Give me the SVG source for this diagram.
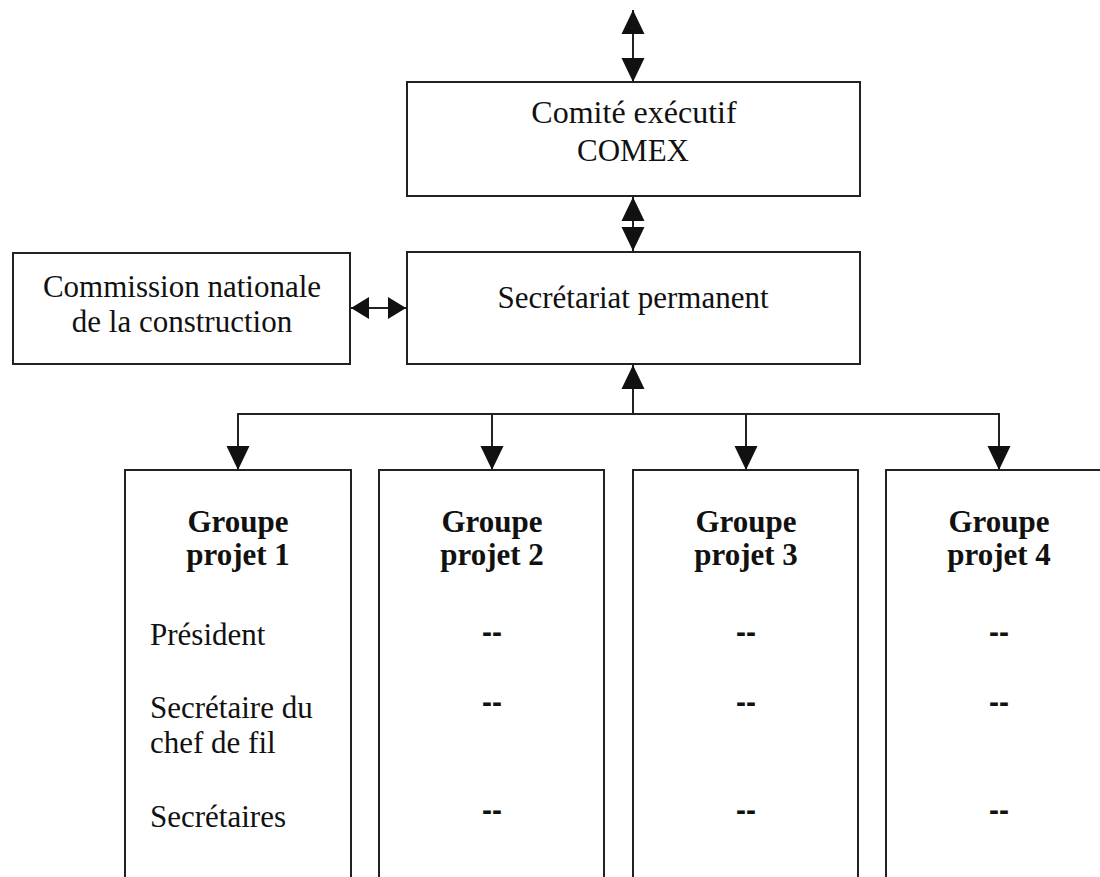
<svg xmlns="http://www.w3.org/2000/svg" width="1100" height="877" viewBox="0 0 1100 877">
<style>
.box{fill:#fff;stroke:#222;stroke-width:2}
.ln{fill:none;stroke:#222;stroke-width:2}
.t{font-family:"Liberation Serif","Times New Roman",serif;font-size:31px;fill:#111}
.b{font-family:"Liberation Serif","Times New Roman",serif;font-size:31px;font-weight:bold;fill:#111}
.d{font-family:"Liberation Sans",Arial,sans-serif;font-size:30px;font-weight:bold;fill:#111}
.c{text-anchor:middle}
</style>
<defs>
<marker id="ah" markerUnits="userSpaceOnUse" markerWidth="24" markerHeight="24" refX="24" refY="12" orient="auto-start-reverse" viewBox="0 0 24 24">
<path d="M0,0.5 L24,12 L0,23.5 z" fill="#111"/>
</marker>
<marker id="ahs" markerUnits="userSpaceOnUse" markerWidth="18" markerHeight="22" refX="18" refY="11" orient="auto-start-reverse" viewBox="0 0 18 22">
<path d="M0,0 L18,11 L0,22 z" fill="#111"/>
</marker>
</defs>
<g id="connectors">
<line class="ln" x1="633" y1="10" x2="633" y2="82" marker-start="url(#ah)" marker-end="url(#ah)"/>
<line class="ln" x1="633" y1="197" x2="633" y2="251" marker-start="url(#ah)" marker-end="url(#ah)"/>
<line class="ln" x1="351" y1="308" x2="406" y2="308" marker-start="url(#ahs)" marker-end="url(#ahs)"/>
<line class="ln" x1="633" y1="414" x2="633" y2="365" marker-end="url(#ah)"/>
<line class="ln" x1="238" y1="414" x2="999" y2="414"/>
<line class="ln" x1="238" y1="413" x2="238" y2="470" marker-end="url(#ah)"/>
<line class="ln" x1="492" y1="414" x2="492" y2="470" marker-end="url(#ah)"/>
<line class="ln" x1="746" y1="414" x2="746" y2="470" marker-end="url(#ah)"/>
<line class="ln" x1="999" y1="413" x2="999" y2="470" marker-end="url(#ah)"/>
</g>
<g id="comex">
<rect class="box" x="407" y="82" width="453" height="114"/>
<text class="t c" x="634" y="123" style="font-size:32px">Comité exécutif</text>
<text class="t c" x="633" y="161">COMEX</text>
</g>
<g id="secretariat">
<rect class="box" x="407" y="252" width="453" height="112"/>
<text class="t c" x="633" y="308">Secrétariat permanent</text>
</g>
<g id="commission">
<rect class="box" x="13" y="253" width="337" height="111"/>
<text class="t c" x="182" y="297">Commission nationale</text>
<text class="t c" x="182" y="332">de la construction</text>
</g>
<g id="groupe1">
<rect class="box" x="125" y="470" width="226" height="430"/>
<text class="b c" x="238" y="532">Groupe</text>
<text class="b c" x="238" y="565">projet 1</text>
<text class="t" x="150" y="645">Président</text>
<text class="t" x="150" y="718">Secrétaire du</text>
<text class="t" x="150" y="753">chef de fil</text>
<text class="t" x="150" y="827">Secrétaires</text>
</g>
<g id="groupe2">
<rect class="box" x="379" y="470" width="225" height="430"/>
<text class="b c" x="492" y="532">Groupe</text>
<text class="b c" x="492" y="565">projet 2</text>
<text class="d c" x="492" y="642">--</text>
<text class="d c" x="492" y="712">--</text>
<text class="d c" x="492" y="820">--</text>
</g>
<g id="groupe3">
<rect class="box" x="633" y="470" width="225" height="430"/>
<text class="b c" x="746" y="532">Groupe</text>
<text class="b c" x="746" y="565">projet 3</text>
<text class="d c" x="746" y="642">--</text>
<text class="d c" x="746" y="712">--</text>
<text class="d c" x="746" y="820">--</text>
</g>
<g id="groupe4">
<rect class="box" x="886" y="470" width="226" height="430"/>
<text class="b c" x="999" y="532">Groupe</text>
<text class="b c" x="999" y="565">projet 4</text>
<text class="d c" x="999" y="642">--</text>
<text class="d c" x="999" y="712">--</text>
<text class="d c" x="999" y="820">--</text>
</g>
</svg>
